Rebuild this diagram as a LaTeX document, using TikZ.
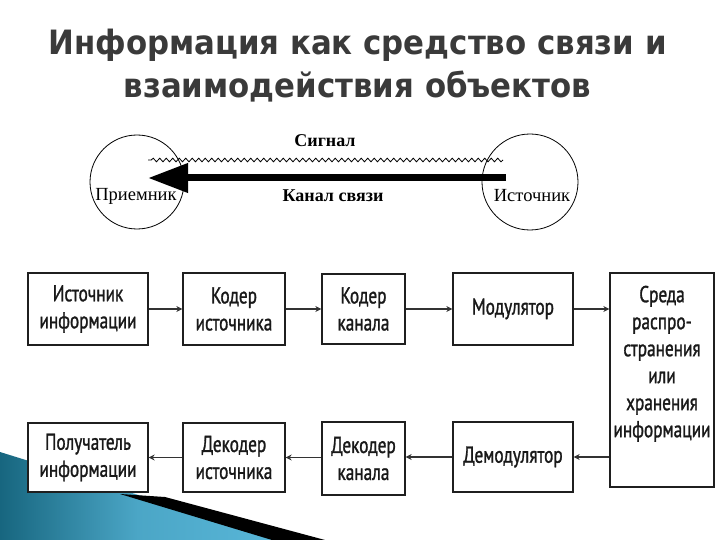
\documentclass[tikz,border=0pt]{standalone}
\usepackage{fontspec}
\setmainfont{Liberation Serif}
\newfontfamily\boxfont{PT Sans}[FakeStretch=0.75,FakeBold=1.2]
\newfontfamily\titlefont{DejaVu Sans}[FakeStretch=0.92]
\usetikzlibrary{arrows.meta,decorations.pathmorphing,calc}
\definecolor{titlegray}{HTML}{3A3A3A}
\definecolor{tealdark}{HTML}{17667F}
\definecolor{teallight}{HTML}{58B6D8}
\begin{document}
\begin{tikzpicture}[x=1pt,y=-1pt,
  blk/.style={draw=black!88,line width=1.3pt,fill=white,align=center,inner sep=0pt,
    font=\boxfont\fontsize{23}{27}\selectfont,text=black!90},
  conn/.style={draw=black!80,line width=1.5pt,-{Stealth[length=6pt,width=6pt]}},
  ring/.style={draw=black,line width=0.8pt,circle,inner sep=0pt},
  ttl/.style={font=\titlefont\bfseries\fontsize{33.5}{43}\selectfont,align=center}]
\useasboundingbox (0,0) rectangle (720,540);
\fill[white] (0,0) rectangle (720,540);
% decoration bottom left
\shade[left color=tealdark,right color=teallight,middle color=teallight!80!tealdark]
  (0,452) -- (145,497) -- (275,540) -- (0,540) -- cycle;
\fill[black] (120,494) -- (165,497) -- (325,540) -- (272,540) -- cycle;
% title
\node[ttl,text=titlegray] (title) at (357.5,65.5) {Информация как средство связи и\\взаимодействия объектов};
% top diagram
\node[ring,minimum size=94pt] (rcv) at (137,182) {};
\node[ring,minimum size=96pt] (src) at (530,182) {};
\coordinate (wA) at ($(src.center)+(-27,-22)$);
\coordinate (wB) at ($(rcv.center)+(11,-22)$);
\draw[line width=0.8pt,decorate,decoration={snake,segment length=6.5pt,amplitude=1.8pt}] (wA) -- (wB);
\coordinate (aA) at ($(src.center)+(-24,-4)$);
\coordinate (aB) at ($(rcv.center)+(11,-4)$);
\draw[line width=7pt,-{Triangle[length=40pt,width=28pt]}] (aA) -- (aB);
\node[font=\bfseries\fontsize{18}{20}\selectfont] (sig) at (325,141) {Сигнал};
\node[font=\bfseries\fontsize{18}{20}\selectfont] (chan) at (333,196) {Канал связи};
\node[font=\fontsize{18.5}{20}\selectfont,inner sep=0pt] (rcvl) at (136,196) {Приемник};
\node[font=\fontsize{18.5}{20}\selectfont,inner sep=0pt] (srcl) at (532,196) {Источник};
% blocks row 1
\node[blk,minimum width=120pt,minimum height=72pt] (b1) at (88,309) {Источник\\информации};
\node[blk,minimum width=102pt,minimum height=72pt] (b2) at (234,309) {Кодер\\источника};
\node[blk,minimum width=83pt,minimum height=70pt] (b3) at (363.5,309) {Кодер\\канала};
\node[blk,minimum width=120pt,minimum height=72pt] (b4) at (513,309) {\raisebox{5pt}{Модулятор}};
\node[blk,minimum width=104pt,minimum height=214pt] (b5) at (662,380) {Среда\\распро-\\странения\\или\\хранения\\информации\\[10pt]};
% blocks row 2
\node[blk,minimum width=120pt,minimum height=69pt] (b6) at (88,457.5) {Получатель\\информации};
\node[blk,minimum width=102pt,minimum height=69pt] (b7) at (234,457.5) {Декодер\\источника};
\node[blk,minimum width=83pt,minimum height=73pt] (b8) at (363.5,458.5) {Декодер\\канала};
\node[blk,minimum width=120pt,minimum height=70pt] (b9) at (513,457) {Демодулятор};
% connectors
\draw[conn] (b1.east) -- (b2.west);
\draw[conn] (b2.east) -- (b3.west);
\draw[conn] (b3.east) -- (b4.west);
\draw[conn] (b4.east) -- (b4.east -| b5.west);
\draw[conn] (b9.east -| b5.west) -- (b9.east);
\draw[conn] (b9.west) -- (b9.west -| b8.east);
\draw[conn] (b7.east -| b8.west) -- (b7.east);
\draw[conn] (b7.west) -- (b6.east);
\end{tikzpicture}
\end{document}
